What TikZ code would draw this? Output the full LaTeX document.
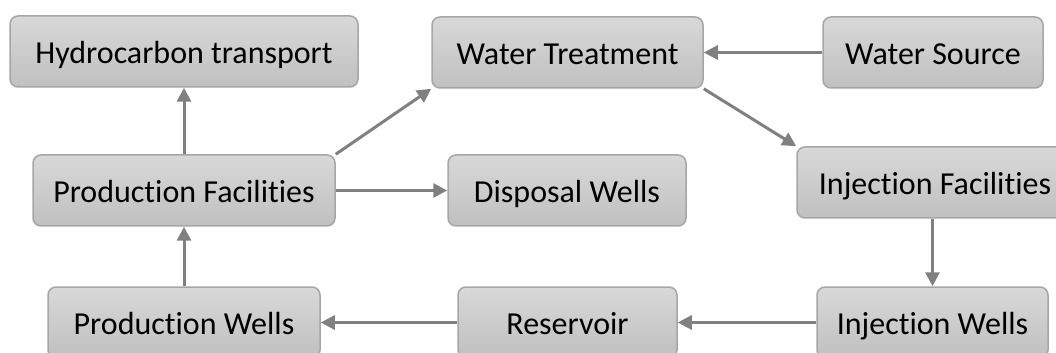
\documentclass[tikz,border=0pt]{standalone}
\usepackage{fontspec}
\setmainfont{Carlito}[Ligatures={NoCommon}]
\usepackage{tikz}
\usetikzlibrary{arrows.meta, positioning, calc}

\definecolor{boxline}{HTML}{A6A6A6}
\definecolor{boxtop}{HTML}{D8D8D8}
\definecolor{boxbottom}{HTML}{C0C0C0}
\definecolor{flowgray}{HTML}{808080}

\begin{document}
\begin{tikzpicture}[
    x=0.5pt, y=-0.5pt,
    mainblock/.style={rectangle, draw=boxline, line width=0.75pt, top color=boxtop, bottom color=boxbottom, rounded corners=4pt, minimum height=35.5pt, inner sep=0pt, text height=14pt, text depth=1.5pt, font=\fontsize{16}{18}\selectfont},
    arrow/.style={-{Triangle[length=7pt, width=7pt]}, line width=1.5pt, flowgray}
]
    \useasboundingbox (0,0) rectangle (1056,353);

    % Top row
    \node[mainblock, minimum width=174pt] (hydro) at (184,51.5) {Hydrocarbon transport};
    \node[mainblock, minimum width=135.5pt] (treat) at (567.5,52.5) {Water Treatment};
    \node[mainblock, minimum width=110pt] (source) at (933,52.5) {Water Source};

    % Middle row
    \node[mainblock, minimum width=151pt] (prodfac) at (184,190.5) {Production Facilities};
    \node[mainblock, minimum width=119pt] (disposal) at (567,190.5) {Disposal Wells};
    \node[mainblock, minimum width=138pt] (injfac) at (935,182.5) {Injection Facilities};

    % Bottom row
    \node[mainblock, minimum width=136pt] (prodwells) at (184,322.5) {Production Wells};
    \node[mainblock, minimum width=109.5pt] (reservoir) at (567.5,322.5) {Reservoir};
    \node[mainblock, minimum width=115.5pt] (injwells) at (932.5,322.5) {Injection Wells};

    % Flow arrows
    \draw[arrow] (source) -- (treat);
    \draw[arrow] (treat.south east) -- (injfac.north west);
    \draw[arrow] (injfac.south -| injwells.north) -- (injwells.north);
    \draw[arrow] (injwells) -- (reservoir);
    \draw[arrow] (reservoir) -- (prodwells);
    \draw[arrow] (prodwells) -- (prodfac);
    \draw[arrow] (prodfac) -- (hydro);
    \draw[arrow] (prodfac) -- (disposal);
    \draw[arrow] (prodfac.north east) -- (treat.south west);

\end{tikzpicture}
\end{document}
